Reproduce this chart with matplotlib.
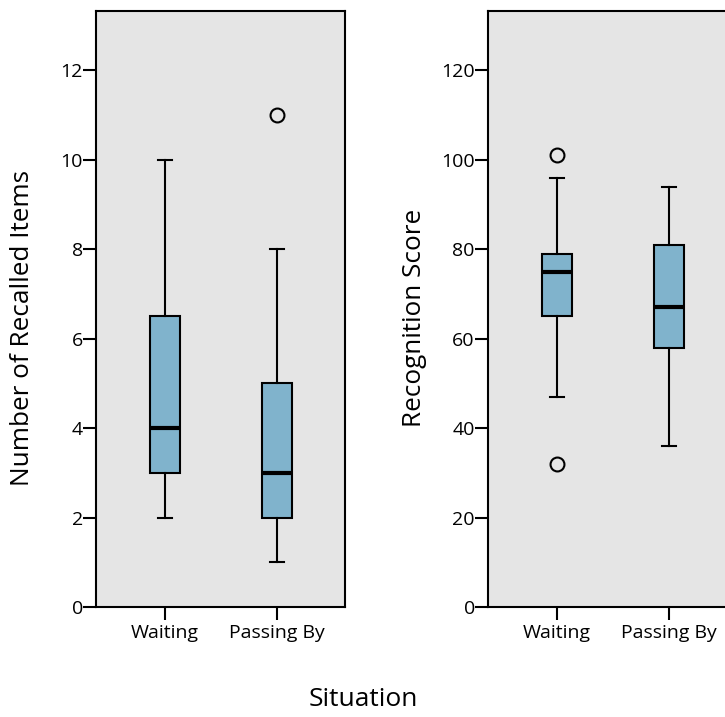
import matplotlib
matplotlib.use("Agg")
import matplotlib.pyplot as plt

plt.rcParams['font.family'] = ['Open Sans', 'DejaVu Sans']

groups = ["Waiting", "Passing By"]

# Number of recalled items: whisker low, q1, median, q3, whisker high, outliers
recall_whislo = [2, 1]
recall_q1 = [3, 2]
recall_med = [4, 3]
recall_q3 = [6.5, 5]
recall_whishi = [10, 8]
recall_fliers = [[], [11]]

# Recognition score
recog_whislo = [47, 36]
recog_q1 = [65, 58]
recog_med = [75, 67]
recog_q3 = [79, 81]
recog_whishi = [96, 94]
recog_fliers = [[101, 32], []]

recall_ticks = [0, 2, 4, 6, 8, 10, 12]
recog_ticks = [0, 20, 40, 60, 80, 100, 120]

box_color = '#80b3cc'
bg_color = '#e5e5e5'


def make_stats(lo, q1, med, q3, hi, fl):
    out = []
    for i in range(len(groups)):
        out.append(dict(whislo=lo[i], q1=q1[i], med=med[i], q3=q3[i],
                        whishi=hi[i], fliers=fl[i], label=groups[i]))
    return out


def draw(ax, stats, ymax, ticks, ylabel):
    ax.set_facecolor(bg_color)
    ax.bxp(stats, positions=[1, 2], widths=0.26, capwidths=0.12,
           patch_artist=True, showfliers=True,
           boxprops=dict(facecolor=box_color, edgecolor='black', linewidth=1.5),
           medianprops=dict(color='black', linewidth=3),
           whiskerprops=dict(color='black', linewidth=1.5),
           capprops=dict(color='black', linewidth=1.5),
           flierprops=dict(marker='o', markersize=10, markerfacecolor='none',
                           markeredgecolor='black', markeredgewidth=1.5))
    ax.set_xlim(0.384, 2.607)
    ax.set_ylim(0, ymax)
    ax.set_yticks(ticks)
    ax.set_xticks([1, 2])
    ax.set_xticklabels(groups)
    for s in ax.spines.values():
        s.set_linewidth(1.5)
        s.set_color('black')
    ax.tick_params(axis='both', direction='out', length=9.5, width=1.5,
                   labelsize=14, colors='black')
    ax.tick_params(axis='y', pad=0)
    ax.tick_params(axis='x', pad=3)
    ax.set_ylabel(ylabel, fontsize=18.8)


fig = plt.figure(figsize=(7.25, 7.17), dpi=100)
ax1 = fig.add_axes([96 / 725, 1 - 607 / 717, 249 / 725, 596 / 717])
ax2 = fig.add_axes([488 / 725, 1 - 607 / 717, 249 / 725, 596 / 717])

draw(ax1, make_stats(recall_whislo, recall_q1, recall_med, recall_q3,
                     recall_whishi, recall_fliers),
     13.33, recall_ticks, "Number of Recalled Items")
draw(ax2, make_stats(recog_whislo, recog_q1, recog_med, recog_q3,
                     recog_whishi, recog_fliers),
     133.3, recog_ticks, "Recognition Score")

ax1.yaxis.set_label_coords(-0.243, 0.468)
ax2.yaxis.set_label_coords(-0.245, 0.485)

fig.text(363 / 725, 1 - 700 / 717, "Situation", ha='center', va='center',
         fontsize=19)

fig.savefig("out.png", dpi=100)
